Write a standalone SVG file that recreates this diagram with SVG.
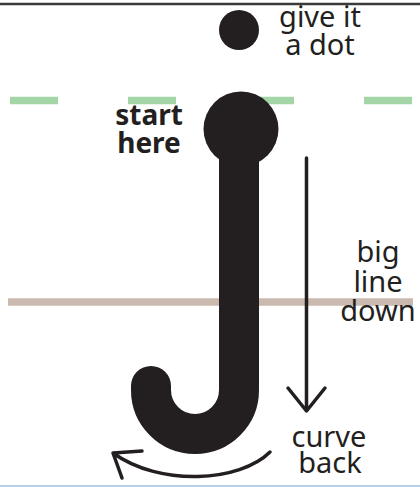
<svg xmlns="http://www.w3.org/2000/svg" width="420" height="487" viewBox="0 0 420 487">
<style>
.t{font-family:"Noto Sans","Open Sans",sans-serif;font-size:29px;fill:#231f20;text-anchor:middle}
.b{font-weight:bold;font-size:28px}
.ink{fill:#231f20}
.arr{fill:none;stroke:#231f20;stroke-width:3.5;stroke-linecap:round;stroke-linejoin:round}
</style>
<rect width="420" height="487" fill="#ffffff"/>
<line x1="0" y1="4" x2="420" y2="4" stroke="#3a3a3a" stroke-width="2.6"/>
<line x1="0" y1="486" x2="420" y2="486" stroke="#b3d1ea" stroke-width="2"/>
<g id="guides">
<line x1="10" y1="100.5" x2="413" y2="100.5" stroke="#a3d5a6" stroke-width="7.5" stroke-dasharray="48 70"/>
<line x1="8" y1="302" x2="413" y2="302" stroke="#c9b9af" stroke-width="7.5"/>
</g>
<g id="dot"><circle class="ink" cx="239" cy="30" r="20"/></g>
<g id="letter-j">
<path d="M239,150 V390 A44,44 0 0 1 151,390 V386" fill="none" stroke="#231f20" stroke-width="40" stroke-linecap="round"/>
<circle class="ink" cx="241" cy="129" r="37.5"/>
</g>
<g id="labels">
<text class="t" x="320" y="27">give it</text>
<text class="t" x="320" y="55">a dot</text>
<text class="t b" x="149" y="125">start</text>
<text class="t b" x="149" y="153">here</text>
<text class="t" x="378" y="262">big</text>
<text class="t" x="378" y="292">line</text>
<text class="t" x="378" y="321">down</text>
<text class="t" x="329" y="447">curve</text>
<text class="t" x="330" y="473">back</text>
</g>
<g id="connectors">
<path class="arr" d="M306.5,158 V411 M288,388 L306.5,411 L325,388"/>
<path class="arr" d="M270,452 C240,482 160,487 113,453 M142,451 L113,453 L122,478"/>
</g>
</svg>
